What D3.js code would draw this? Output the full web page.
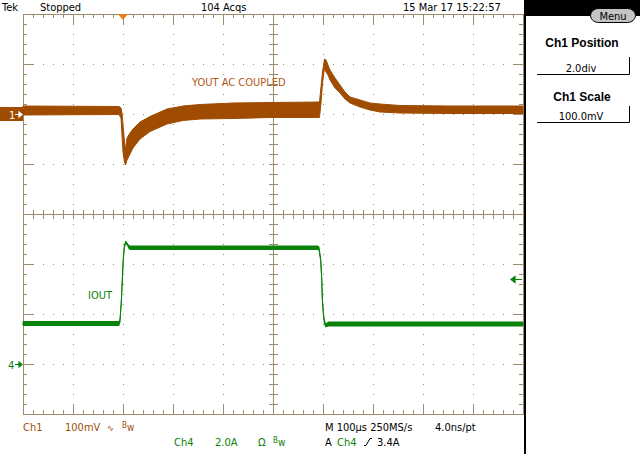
<!DOCTYPE html>
<html>
<head>
<meta charset="utf-8">
<script src="https://cdn.jsdelivr.net/npm/d3@7"></script>
<style>
body{margin:0;background:#fff;}
svg{display:block;}
text{font-family:"Liberation Sans Narrow","DejaVu Sans Condensed","Liberation Sans",sans-serif;font-size:11px;}
</style>
</head>
<body>
<script>
// Ch1 = VOUT (AC coupled), envelope of the acquisitions. time in us from trigger, mV
var ch1T  = [-200,-8,-4,-2,0,3,5,8,14,20,34,54,88,120,154,220,294,393,396,399,403,406,410,414,424,434,444,454,474,494,514,554,654,800];
var ch1Hi = [16,15,12,2,-22,-56,-72,-48,-38,-30,-16,-5,10,16,19,22,23,24,54,84,110,108,98,88,72,58,44,34,28,22,20,17,16,16];
var ch1Lo = [-2,-1,-8,-42,-76,-96,-102,-92,-80,-68,-50,-35,-20,-13,-10,-9,-7,-7,22,62,92,84,78,68,52,42,30,22,14,8,4,2,1,1];

// Ch4 = IOUT, amps
var ch4T  = [-200,-8,-6,-3.4,-1.4,0.6,2.6,5.4,9.4,13,390,392,395.4,397.4,398.6,400.6,402.6,405.4,410.6,800];
var ch4Hi = [1.70,1.70,1.80,2.52,3.40,4.24,4.72,4.92,4.80,4.72,4.72,4.68,4.20,3.48,2.68,2.08,1.76,1.60,1.68,1.68];
var ch4Lo = [1.54,1.54,1.68,2.44,3.32,4.16,4.64,4.84,4.72,4.58,4.58,4.56,4.12,3.40,2.60,2.00,1.64,1.48,1.52,1.52];

var trigLevel = 3.4;
var topLabels = ["Tek","Stopped","104 Acqs","15 Mar 17 15:22:57"];
var sideTitles = ["Ch1 Position","Ch1 Scale"];
var sideValues = ["2.0div","100.0mV"];
var traceNames = ["YOUT AC COUPLED","IOUT"];

var W = 640, H = 454;
var orange = "#a04c00", green = "#0a820a", grid = "#9a8c6c";

var svg = d3.select("body").append("svg").attr("width",W).attr("height",H);

// screen is 10 x 8 divisions
var xDiv = d3.scaleLinear().domain([-5,5]).range([23,523]);
var yDiv = d3.scaleLinear().domain([-4,4]).range([414,14]);
var x  = d3.scaleLinear().domain([-200,800]).range([23,523]);   // 100us/div
var y1 = d3.scaleLinear().domain([-600,200]).range([414,14]);   // 100mV/div, pos 2.0div
var y4 = d3.scaleLinear().domain([-2,14]).range([414,14]);      // 2A/div

// graticule
var g = svg.append("g");
var minorX = d3.range(-5,5.01,0.2), minorY = d3.range(-4,4.01,0.2);
var isMajor = function(v){ return Math.abs(v-Math.round(v))<1e-6; };

// dots along the major lines
d3.range(-4,5).forEach(function(d){
    if(d==0) return;
    minorY.forEach(function(v){
        g.append("rect").attr("x",xDiv(d)).attr("y",Math.round(yDiv(v))).attr("width",1).attr("height",1).attr("fill",grid);
    });
});
d3.range(-3,4).forEach(function(d){
    if(d==0) return;
    minorX.forEach(function(v){
        g.append("rect").attr("x",Math.round(xDiv(v))).attr("y",yDiv(d)).attr("width",1).attr("height",1).attr("fill",grid);
    });
});

g.append("rect").attr("x",xDiv(-5)+0.5).attr("y",yDiv(4)+0.5)
    .attr("width",xDiv(5)-xDiv(-5)).attr("height",yDiv(-4)-yDiv(4))
    .attr("fill","none").attr("stroke",grid);
g.append("line").attr("x1",xDiv(-5)).attr("x2",xDiv(5)).attr("y1",yDiv(0)+0.5).attr("y2",yDiv(0)+0.5).attr("stroke",grid);
g.append("line").attr("x1",xDiv(0)+0.5).attr("x2",xDiv(0)+0.5).attr("y1",yDiv(4)).attr("y2",yDiv(-4)).attr("stroke",grid);

minorX.forEach(function(v){
    var px = Math.round(xDiv(v))+0.5, len = isMajor(v) ? 10 : 4;
    g.append("line").attr("x1",px).attr("x2",px).attr("y1",14).attr("y2",14+len).attr("stroke",grid);
    g.append("line").attr("x1",px).attr("x2",px).attr("y1",414).attr("y2",414-len).attr("stroke",grid);
    g.append("line").attr("x1",px).attr("x2",px).attr("y1",yDiv(0)-4).attr("y2",yDiv(0)+5).attr("stroke",grid);
});
minorY.forEach(function(v){
    var py = Math.round(yDiv(v))+0.5, len = isMajor(v) ? 10 : 4;
    g.append("line").attr("y1",py).attr("y2",py).attr("x1",23).attr("x2",23+len).attr("stroke",grid);
    g.append("line").attr("y1",py).attr("y2",py).attr("x1",523).attr("x2",523-len).attr("stroke",grid);
    g.append("line").attr("y1",py).attr("y2",py).attr("x1",xDiv(0)-4).attr("x2",xDiv(0)+5).attr("stroke",grid);
});

// traces
var band = function(t, hi, lo, ys){
    return d3.area().x(function(d,i){ return x(t[i]); })
        .y0(function(d,i){ return ys(lo[i]); })
        .y1(function(d,i){ return ys(hi[i]); })(t);
};
svg.append("path").attr("d",band(ch1T,ch1Hi,ch1Lo,y1))
    .attr("fill",orange).attr("stroke",orange).attr("stroke-width",1).attr("stroke-linejoin","round");
svg.append("path").attr("d",band(ch4T,ch4Hi,ch4Lo,y4))
    .attr("fill",green).attr("stroke",green).attr("stroke-width",1).attr("stroke-linejoin","round");

svg.append("text").attr("x",192).attr("y",86).attr("fill","#b0561a").text(traceNames[0]);
svg.append("text").attr("x",88).attr("y",299).attr("fill",green).text(traceNames[1]);

// channel markers
var arrowR = function(x0, yy, col){
    svg.append("path").attr("d","M"+x0+","+yy+"h7 M"+(x0+4)+","+(yy-2.5)+"l3,2.5l-3,2.5z")
        .attr("stroke",col).attr("fill",col).attr("stroke-width",1.2);
};
svg.append("rect").attr("x",0).attr("y",y1(0)-7).attr("width",23).attr("height",14).attr("fill",orange);
svg.append("text").attr("x",9).attr("y",y1(0)+4.5).attr("fill","#fff").text("1");
arrowR(15, y1(0)+0.5, "#fff");
svg.append("text").attr("x",8).attr("y",y4(0)+5).attr("fill",green).text("4");
arrowR(15, y4(0)+0.5, green);
// trigger level arrow (right side)
var ty = Math.round(y4(trigLevel))+0.5;
svg.append("path").attr("d","M522,"+ty+"h-10 M515,"+(ty-3)+"l-4,3l4,3z")
    .attr("stroke",green).attr("fill",green).attr("stroke-width",1.2);
// trigger position
var tx = x(0);
svg.append("path").attr("d","M"+(tx-5)+",14L"+(tx+5)+",14L"+tx+",20z").attr("fill","#f07c1c");

// top status line
var topX = [2,40,201,403];
topLabels.forEach(function(s,i){
    svg.append("text").attr("x",topX[i]).attr("y",11).attr("fill","#000").text(s);
});

// side panel
svg.append("rect").attr("x",524).attr("y",0).attr("width",2).attr("height",H).attr("fill","#000");
svg.append("rect").attr("x",524).attr("y",0).attr("width",W-524).attr("height",16).attr("fill","#000");
svg.append("rect").attr("x",590.5).attr("y",8.5).attr("width",45).attr("height",14).attr("rx",8)
    .attr("fill","#c4c4c4").attr("stroke","#000");
svg.append("text").attr("x",613).attr("y",19.5).attr("text-anchor","middle").attr("fill","#000").text("Menu");

var titleY = [47,101], valY = [72,120], boxTop = [57,106], boxBot = [74.5,122.5];
sideTitles.forEach(function(s,i){
    svg.append("text").attr("x",582).attr("y",titleY[i]).attr("text-anchor","middle")
        .style("font-family","'Liberation Sans',Arial,sans-serif").style("font-size","12px").style("font-weight","bold")
        .text(s);
    svg.append("text").attr("x",581).attr("y",valY[i]).attr("text-anchor","middle").text(sideValues[i]);
    svg.append("path").attr("d","M537,"+boxBot[i]+"H629.5V"+boxTop[i]).attr("fill","none").attr("stroke","#000");
});

// bottom readout
var bw = function(xx, yy, col){
    var t = svg.append("text").attr("x",xx).attr("y",yy).attr("fill",col);
    t.append("tspan").attr("dy",-3).style("font-size","8px").text("B");
    t.append("tspan").attr("dy",3).style("font-size","10px").text("w");
};
var b1 = 431, b2 = 446, ch1Col = "#a0500a";
svg.append("text").attr("x",23).attr("y",b1).attr("fill",ch1Col).text("Ch1");
svg.append("text").attr("x",65).attr("y",b1).attr("fill",ch1Col).text("100mV");
svg.append("text").attr("x",107).attr("y",b1).attr("fill",ch1Col).style("font-size","9px").text("\u223F");
bw(122, b1, ch1Col);
svg.append("text").attr("x",325).attr("y",b1).attr("fill","#000").text("M 100\u00B5s 250MS/s");
svg.append("text").attr("x",435).attr("y",b1).attr("fill","#000").text("4.0ns/pt");

svg.append("text").attr("x",174).attr("y",b2).attr("fill",green).text("Ch4");
svg.append("text").attr("x",215).attr("y",b2).attr("fill",green).text("2.0A");
svg.append("text").attr("x",258).attr("y",b2).attr("fill",green).text("\u03A9");
bw(273, b2, green);
svg.append("text").attr("x",325).attr("y",b2).attr("fill","#000").text("A");
svg.append("text").attr("x",337).attr("y",b2).attr("fill",green).text("Ch4");
svg.append("path").attr("d","M364,"+(b2-0.5)+"h2l4,-7h2").attr("fill","none").attr("stroke","#000");
svg.append("text").attr("x",377).attr("y",b2).attr("fill","#000").text(trigLevel.toFixed(1)+"A");
</script>
</body>
</html>
